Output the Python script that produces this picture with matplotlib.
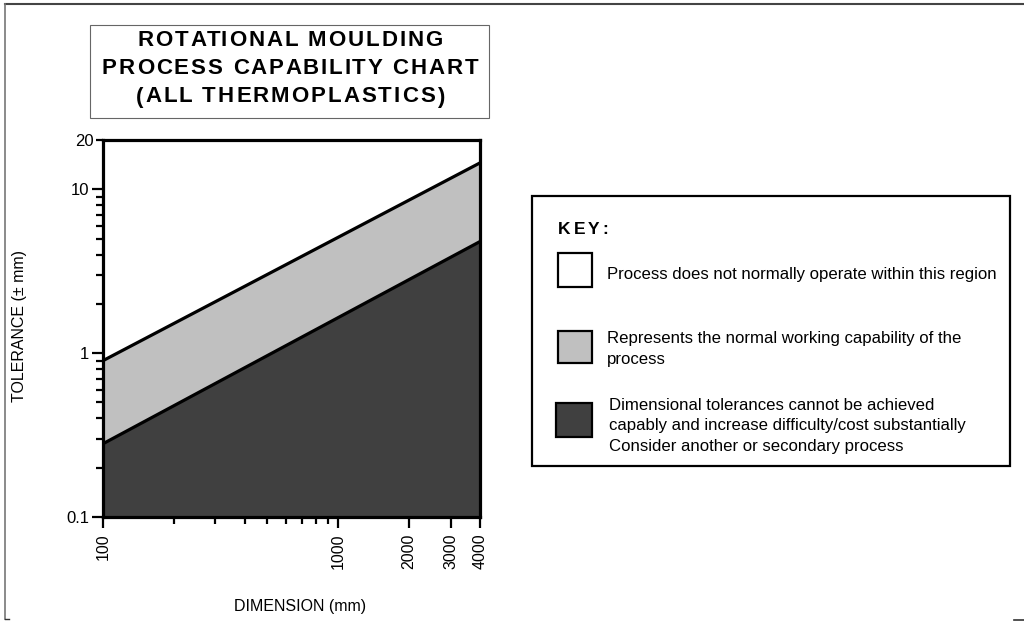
import matplotlib
matplotlib.use("Agg")
import matplotlib.pyplot as plt
from matplotlib.patches import Rectangle
from matplotlib.lines import Line2D
from matplotlib.font_manager import FontProperties

plt.rcParams['font.family'] = ['Liberation Sans', 'DejaVu Sans']

# Band boundaries (straight lines on log-log axes)
dimension = [100, 4000]
upper_tol = [0.9, 14.5]
lower_tol = [0.28, 4.8]

x_major = [100, 1000, 2000, 3000, 4000]
x_major_labels = ['100', '1000', '2000', '3000', '4000']
x_minor = [200, 300, 400, 500, 600, 700, 800, 900]
y_major = [0.1, 1, 10]
y_major_labels = ['0.1', '1', '10']
y_minor = [0.2, 0.3, 0.4, 0.5, 0.6, 0.7, 0.8, 0.9,
           2, 3, 4, 5, 6, 7, 8, 9, 20]
y_minor_labels = [''] * 16 + ['20']

title_lines = ['ROTATIONAL MOULDING',
               'PROCESS CAPABILITY CHART',
               '(ALL THERMOPLASTICS)']
key_colors = ['white', '#c0c0c0', '#404040']
key_texts = [
    ['Process does not normally operate within this region'],
    ['Represents the normal working capability of the', 'process'],
    ['Dimensional tolerances cannot be achieved',
     'capably and increase difficulty/cost substantially',
     'Consider another or secondary process'],
]

W, H = 1024, 621
fig = plt.figure(figsize=(W / 100, H / 100), dpi=100)
renderer = fig.canvas.get_renderer()


def fx(px):
    return px / W


def fy(py):
    return 1 - py / H


def spaced_text(x_px, y_px, s, size, tracking, ha='center', weight='bold'):
    """Draw text with extra spacing (in pixels) between the letters."""
    prop = FontProperties(family='Liberation Sans', size=size, weight=weight)
    offsets = []
    for i in range(len(s)):
        w = renderer.get_text_width_height_descent(s[:i], prop, ismath=False)[0] if i else 0.0
        offsets.append(w + i * tracking)
    full = renderer.get_text_width_height_descent(s, prop, ismath=False)[0]
    total = full + (len(s) - 1) * tracking
    x0 = x_px - total / 2 if ha == 'center' else x_px
    for ch, off in zip(s, offsets):
        if ch != ' ':
            fig.text(fx(x0 + off), fy(y_px), ch, ha='left', va='center',
                     fontproperties=prop)


# Outer frame
fig.add_artist(Line2D([fx(5), fx(1024)], [fy(3.5), fy(3.5)], color='#444444', lw=1.5))
fig.add_artist(Line2D([fx(5), fx(5)], [fy(3.5), fy(619)], color='#777777', lw=1.2))
fig.add_artist(Line2D([fx(5), fx(9)], [fy(619), fy(619)], color='#333333', lw=1.0))
fig.add_artist(Line2D([fx(1014), fx(1024)], [fy(620), fy(620)], color='#333333', lw=1.2))

# Main chart
ax = fig.add_axes([fx(103), fy(517), fx(480) - fx(103), fy(140) - fy(517)])
ax.set_xscale('log')
ax.set_yscale('log')
ax.set_xlim(100, 4000)
ax.set_ylim(0.1, 20)
ax.set_facecolor('white')
ax.fill_between(dimension, [0.1, 0.1], lower_tol, color=key_colors[2], lw=0, zorder=1)
ax.fill_between(dimension, lower_tol, upper_tol, color=key_colors[1], lw=0, zorder=1)
ax.plot(dimension, upper_tol, color='black', lw=2.3, zorder=2, solid_capstyle='butt')
ax.plot(dimension, lower_tol, color='black', lw=2.3, zorder=2, solid_capstyle='butt')

for s in ax.spines.values():
    s.set_linewidth(2.3)
    s.set_zorder(3)

ax.set_xticks(x_major, labels=x_major_labels)
ax.set_xticks(x_minor, labels=[''] * len(x_minor), minor=True)
ax.set_yticks(y_major, labels=y_major_labels)
ax.set_yticks(y_minor, labels=y_minor_labels, minor=True)
ax.tick_params(axis='both', which='major', length=8, width=1.6, pad=2)
ax.tick_params(axis='both', which='minor', length=5, width=1.6, pad=2)
ax.tick_params(axis='y', which='both', labelsize=12)
ax.tick_params(axis='x', which='both', labelsize=11.5)
ax.tick_params(axis='x', which='major', labelrotation=90, pad=4)

fig.text(fx(20), fy(326), 'TOLERANCE (± mm)', rotation=90, ha='center', va='center', fontsize=11.5)
fig.text(fx(300), fy(607), 'DIMENSION (mm)', ha='center', va='center', fontsize=11.5)

# Title box
fig.add_artist(Rectangle((fx(90), fy(118)), fx(489) - fx(90), fy(25) - fy(118),
                         transform=fig.transFigure, fill=False, ec='#666666', lw=0.8))
for i, line in enumerate(title_lines):
    spaced_text(290, 41 + i * 28, line, 16, 2.0)

# Key box
fig.add_artist(Rectangle((fx(532), fy(466)), fx(1010) - fx(532), fy(196) - fy(466),
                         transform=fig.transFigure, fill=False, ec='black', lw=1.6))
spaced_text(558, 229, 'KEY:', 12.5, 3.0, ha='left')

swatches = [(558, 253, 34, 34), (558, 331, 34, 32), (556, 403, 36, 34)]
text_x = [607, 607, 609]
text_y0 = [275, 339, 405]
for (sx, sy, sw, sh), col, lines, tx, ty in zip(swatches, key_colors, key_texts, text_x, text_y0):
    fig.add_artist(Rectangle((fx(sx), fy(sy + sh)), fx(sw), sh / H,
                             transform=fig.transFigure, fc=col, ec='black', lw=1.6))
    for j, t in enumerate(lines):
        fig.text(fx(tx), fy(ty + j * 20.7), t, ha='left', va='center', fontsize=12.1)

fig.savefig('out.png', dpi=100)
